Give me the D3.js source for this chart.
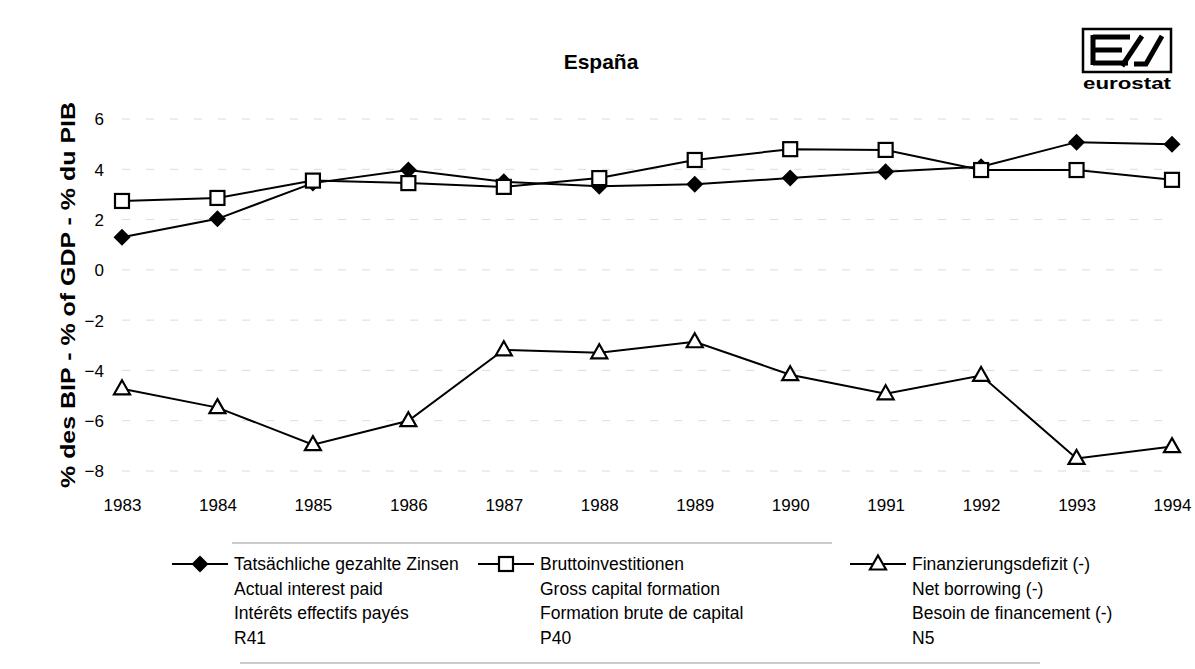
<!DOCTYPE html>
<html>
<head>
<meta charset="utf-8">
<script src="https://cdn.jsdelivr.net/npm/d3@7"></script>
<style>
  html, body { margin: 0; padding: 0; background: #fff; }
  svg { display: block; font-family: "Liberation Sans", Arial, Helvetica, sans-serif; }
</style>
</head>
<body>
<svg id="chart" width="1195" height="669"></svg>
<script>
const years = [1983, 1984, 1985, 1986, 1987, 1988, 1989, 1990, 1991, 1992, 1993, 1994];
const interestPaid = [1.3, 2.03, 3.45, 3.97, 3.5, 3.33, 3.4, 3.65, 3.9, 4.1, 5.08, 5.0];
const grossCapital = [2.74, 2.86, 3.55, 3.45, 3.3, 3.65, 4.37, 4.8, 4.77, 3.97, 3.97, 3.58];
const netBorrowing = [-4.73, -5.48, -6.95, -6.0, -3.18, -3.3, -2.86, -4.17, -4.93, -4.2, -7.5, -7.03];
const yTicks = [6, 4, 2, 0, -2, -4, -6, -8];
const title = "España";
const yLabel = "% des BIP - % of GDP - % du PIB";
const legendItems = [
  { symbol: "diamond", lines: ["Tatsächliche gezahlte Zinsen", "Actual interest paid", "Intérêts effectifs payés", "R41"] },
  { symbol: "square", lines: ["Bruttoinvestitionen", "Gross capital formation", "Formation brute de capital", "P40"] },
  { symbol: "triangle", lines: ["Finanzierungsdefizit (-)", "Net borrowing (-)", "Besoin de financement (-)", "N5"] }
];
const seriesList = [
  { values: interestPaid, symbol: "diamond" },
  { values: grossCapital, symbol: "square" },
  { values: netBorrowing, symbol: "triangle" }
];

const svg = d3.select("#chart");
const x = d3.scalePoint().domain(years).range([122, 1172]);
const y = d3.scaleLinear().domain([-8, 6]).range([471, 119]);

// faint scan-like grid fragments
svg.append("g").selectAll("line").data(yTicks).join("line")
  .attr("x1", 122).attr("x2", 1172)
  .attr("y1", d => y(d)).attr("y2", d => y(d))
  .attr("stroke", "#dcdcdc").attr("stroke-width", 1)
  .attr("stroke-dasharray", "8,16");

// title
svg.append("text").attr("x", 601).attr("y", 69).attr("text-anchor", "middle")
  .attr("font-size", 21).attr("font-weight", "bold").text(title);

// eurostat logo
const logo = svg.append("g");
logo.append("rect").attr("x", 1083).attr("y", 29).attr("width", 88).attr("height", 43)
  .attr("fill", "none").attr("stroke", "#000").attr("stroke-width", 2.5);
logo.append("path").attr("d", "M1093,37 H1130 M1093,50 H1122 M1093,63 H1128 M1093,35 V65")
  .attr("fill", "none").attr("stroke", "#000").attr("stroke-width", 5);
logo.append("path").attr("d", "M1122,66 L1142,36 M1134,64 H1146 L1162,36")
  .attr("fill", "none").attr("stroke", "#000").attr("stroke-width", 5);
logo.append("text").attr("x", 1083).attr("y", 89)
  .attr("font-size", 17).attr("font-weight", "bold")
  .attr("textLength", 88).attr("lengthAdjust", "spacingAndGlyphs").text("eurostat");

// y axis ticks labels
const yAxis = d3.axisLeft(y).tickValues(yTicks).tickSize(0).tickPadding(0).tickFormat(d3.format("d"));
const yg = svg.append("g").attr("transform", "translate(104,0)").call(yAxis);
yg.select(".domain").remove();
yg.selectAll("text").attr("font-size", 17).attr("fill", "#000")
  .attr("font-family", "Liberation Sans, Arial, sans-serif").attr("dy", "0.35em");

// x axis tick labels
const xAxis = d3.axisBottom(x).tickSize(0).tickPadding(0).tickFormat(d3.format("d"));
const xg = svg.append("g").attr("transform", "translate(0,497)").call(xAxis);
xg.select(".domain").remove();
xg.selectAll("text").attr("font-size", 17).attr("fill", "#000")
  .attr("font-family", "Liberation Sans, Arial, sans-serif").attr("dy", "0.8em");

// y axis label
svg.append("text").attr("transform", "translate(75,295) rotate(-90)")
  .attr("text-anchor", "middle").attr("font-size", 21).attr("font-weight", "bold")
  .attr("textLength", 386).attr("lengthAdjust", "spacingAndGlyphs")
  .text(yLabel);

// symbols
function drawSymbol(g, type, cx, cy) {
  if (type === "diamond") {
    g.append("path").attr("d", `M${cx},${cy-8.5} L${cx+8.5},${cy} L${cx},${cy+8.5} L${cx-8.5},${cy} Z`)
      .attr("fill", "#000");
  } else if (type === "square") {
    g.append("rect").attr("x", cx - 7).attr("y", cy - 7).attr("width", 14).attr("height", 14)
      .attr("fill", "#fff").attr("stroke", "#000").attr("stroke-width", 2.2);
  } else {
    g.append("path").attr("d", `M${cx},${cy-8.5} L${cx+8},${cy+5.5} L${cx-8},${cy+5.5} Z`)
      .attr("fill", "#fff").attr("stroke", "#000").attr("stroke-width", 2.2).attr("stroke-linejoin", "miter");
  }
}

const line = d3.line().x((d, i) => x(years[i])).y(d => y(d));
seriesList.forEach(s => {
  svg.append("path").datum(s.values).attr("d", line)
    .attr("fill", "none").attr("stroke", "#000").attr("stroke-width", 2);
});
seriesList.forEach(s => {
  const g = svg.append("g");
  s.values.forEach((v, i) => drawSymbol(g, s.symbol, x(years[i]), y(v)));
});

// legend frame fragments
svg.append("line").attr("x1", 232).attr("x2", 832).attr("y1", 543).attr("y2", 543)
  .attr("stroke", "#999").attr("stroke-width", 1);
svg.append("line").attr("x1", 240).attr("x2", 1040).attr("y1", 663).attr("y2", 663)
  .attr("stroke", "#999").attr("stroke-width", 1);

// legend
const legendX = [172, 478, 850];
legendItems.forEach((item, k) => {
  const g = svg.append("g");
  const lx = legendX[k];
  g.append("line").attr("x1", lx).attr("x2", lx + 56).attr("y1", 564).attr("y2", 564)
    .attr("stroke", "#000").attr("stroke-width", 2);
  drawSymbol(g, item.symbol, lx + 28, 564);
  item.lines.forEach((t, j) => {
    g.append("text").attr("x", lx + 62).attr("y", 570 + j * 24.5)
      .attr("font-size", 17.5).attr("fill", "#000").text(t);
  });
});
</script>
</body>
</html>
